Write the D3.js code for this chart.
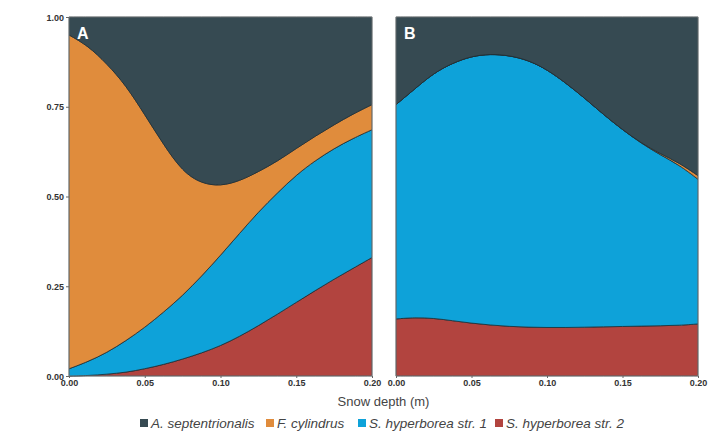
<!DOCTYPE html>
<html>
<head>
<meta charset="utf-8">
<script src="https://cdn.jsdelivr.net/npm/d3@7"></script>
<style>
  body { margin: 0; background: #fff; }
  svg { display: block; font-family: "Liberation Sans", Arial, sans-serif; }
  .tick text { font-size: 9px; font-weight: bold; fill: #333; }
  .tick line { stroke: #666; }
</style>
</head>
<body>
<div id="chart"></div>
<script>
// Snow depth (m) sampled every 0.0125
const depth = [0, 0.0125, 0.025, 0.0375, 0.05, 0.0625, 0.075, 0.0875, 0.1,
  0.1125, 0.125, 0.1375, 0.15, 0.1625, 0.175, 0.1875, 0.2]

const species = ['A. septentrionalis', 'F. cylindrus', 'S. hyperborea str. 1', 'S. hyperborea str. 2']
const colors = ['#364a52', '#e08c3c', '#0ea2d9', '#b2443f']

// Panel A, relative abundance per species
const aSeptA = [0.05, 0.08, 0.13, 0.19, 0.272, 0.356, 0.431, 0.464, 0.471, 0.457, 0.431, 0.402, 0.366, 0.332, 0.30, 0.27, 0.244]
const fCylA = [0.93, 0.88, 0.805, 0.712, 0.593, 0.466, 0.345, 0.258, 0.193, 0.146, 0.112, 0.088, 0.074, 0.068, 0.066, 0.068, 0.07]
const sHyp1A = [0.02, 0.039, 0.06, 0.088, 0.115, 0.146, 0.177, 0.214, 0.252, 0.287, 0.317, 0.338, 0.355, 0.362, 0.364, 0.362, 0.356]
const sHyp2A = [0, 0.001, 0.005, 0.01, 0.02, 0.032, 0.047, 0.064, 0.084, 0.11, 0.14, 0.172, 0.205, 0.238, 0.27, 0.30, 0.33]

// Panel B
const aSeptB = [0.244, 0.20, 0.156, 0.128, 0.109, 0.103, 0.107, 0.12, 0.146, 0.184, 0.226, 0.272, 0.314, 0.351, 0.381, 0.406, 0.442]
const fCylB = [0, 0, 0, 0, 0, 0, 0, 0, 0, 0, 0, 0, 0, 0.001, 0.003, 0.006, 0.01]
const sHyp1B = [0.597, 0.637, 0.683, 0.718, 0.744, 0.755, 0.755, 0.744, 0.719, 0.681, 0.638, 0.591, 0.548, 0.509, 0.476, 0.447, 0.403]
const sHyp2B = [0.159, 0.163, 0.161, 0.154, 0.147, 0.142, 0.138, 0.136, 0.135, 0.135, 0.136, 0.137, 0.138, 0.139, 0.14, 0.141, 0.145]

const yTicks = [0, 0.25, 0.5, 0.75, 1]
const xTicks = [0, 0.05, 0.1, 0.15, 0.2]

const width = 723
const height = 433
const margin = ({top: 17, bottom: 376})

const svg = d3.select('#chart').append('svg').attr('width', width).attr('height', height)

const y = d3.scaleLinear().domain([0, 1]).range([margin.bottom, margin.top])

// build rows for d3.stack, bottom layer first
const toRows = (cols) => depth.map((d, i) => {
  const row = { depth: d }
  species.forEach((s, k) => { row[s] = cols[k][i] })
  return row
})

const panels = [
  { label: 'A', x0: 69, x1: 372, rows: toRows([aSeptA, fCylA, sHyp1A, sHyp2A]) },
  { label: 'B', x0: 396, x1: 698, rows: toRows([aSeptB, fCylB, sHyp1B, sHyp2B]) }
]

const stackKeys = species.slice().reverse()

panels.forEach((p, pi) => {
  const x = d3.scaleLinear().domain([0, 0.2]).range([p.x0, p.x1])
  const series = d3.stack().keys(stackKeys)(p.rows)

  const area = d3.area()
    .curve(d3.curveBasis)
    .x(d => x(d.data.depth))
    .y0(d => y(d[0]))
    .y1(d => y(d[1]))

  const g = svg.append('g')

  g.selectAll('path.layer')
    .data(series)
    .enter().append('path')
      .attr('class', 'layer')
      .attr('fill', d => colors[species.indexOf(d.key)])
      .attr('stroke', '#1f2d33')
      .attr('stroke-width', 0.8)
      .attr('d', area)

  // panel frame
  g.append('rect')
    .attr('x', p.x0).attr('y', margin.top)
    .attr('width', p.x1 - p.x0).attr('height', margin.bottom - margin.top)
    .attr('fill', 'none').attr('stroke', '#9a9a9a').attr('stroke-width', 0.6)

  g.append('text')
    .attr('x', p.x0 + 8).attr('y', margin.top + 22)
    .attr('fill', '#fff').attr('font-size', 16).attr('font-weight', 'bold')
    .text(p.label)

  // x axis
  svg.append('g')
    .attr('transform', `translate(0,${margin.bottom})`)
    .call(d3.axisBottom(x).tickValues(xTicks).tickFormat(d3.format('.2f')).tickSize(2).tickPadding(2))
    .call(ax => ax.select('.domain').remove())

  // y axis only on the left panel
  if (pi === 0) {
    svg.append('g')
      .attr('transform', `translate(${p.x0},0)`)
      .call(d3.axisLeft(y).tickValues(yTicks).tickFormat(d3.format('.2f')).tickSize(3).tickPadding(2))
      .call(ax => ax.select('.domain').remove())
      .selectAll('text').attr('dy', '0.35em')
  }
})

// axis title
svg.append('text')
  .attr('x', (69 + 698) / 2).attr('y', 406)
  .attr('text-anchor', 'middle')
  .attr('font-size', 13).attr('fill', '#444')
  .text('Snow depth (m)')

// legend
const legendX = [140, 266, 358, 495]
const legend = svg.append('g').attr('transform', 'translate(0,419)')
species.forEach((s, i) => {
  legend.append('rect')
    .attr('x', legendX[i]).attr('y', 0).attr('width', 8).attr('height', 8)
    .attr('fill', colors[i])
  legend.append('text')
    .attr('x', legendX[i] + 11).attr('y', 8.5)
    .attr('font-size', 13.5).attr('font-style', 'italic').attr('fill', '#444')
    .text(s)
})
</script>
</body>
</html>
